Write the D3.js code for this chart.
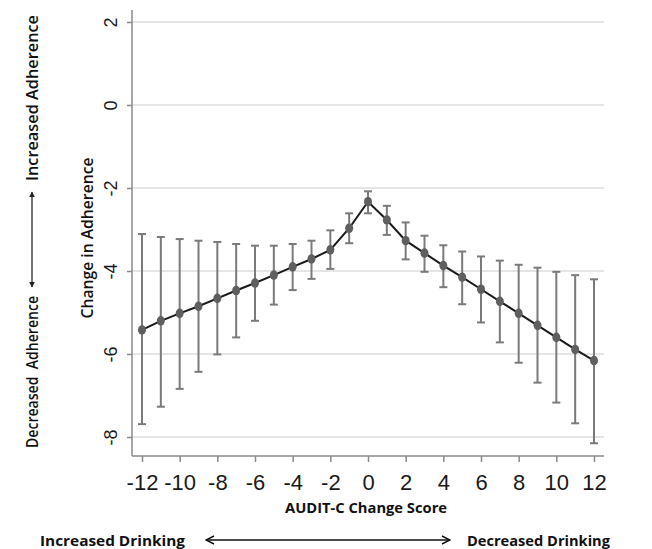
<!DOCTYPE html>
<html>
<head>
<meta charset="utf-8">
<script src="https://cdn.jsdelivr.net/npm/d3@7"></script>
<style>
  body { margin: 0; background: #fff; }
  svg { display: block; }
</style>
</head>
<body>
<div id="chart"></div>
<script>
// AUDIT-C change score vs change in adherence (mean + 95% CI)
const scores = [-12, -11, -10, -9, -8, -7, -6, -5, -4, -3, -2, -1, 0, 1, 2, 3, 4, 5, 6, 7, 8, 9, 10, 11, 12];
const means = [-5.42, -5.20, -5.02, -4.85, -4.66, -4.47, -4.29, -4.10, -3.90, -3.71, -3.49, -2.97, -2.33,
  -2.77, -3.27, -3.57, -3.87, -4.15, -4.44, -4.73, -5.02, -5.31, -5.60, -5.89, -6.16];
const upperCI = [-3.11, -3.18, -3.23, -3.27, -3.30, -3.35, -3.39, -3.39, -3.35, -3.27, -3.02, -2.61, -2.08,
  -2.43, -2.83, -3.15, -3.38, -3.53, -3.65, -3.75, -3.85, -3.92, -4.02, -4.10, -4.20];
const lowerCI = [-7.69, -7.27, -6.84, -6.43, -6.01, -5.60, -5.20, -4.81, -4.46, -4.19, -3.95, -3.33, -2.61,
  -3.13, -3.72, -4.02, -4.39, -4.80, -5.24, -5.72, -6.21, -6.69, -7.17, -7.67, -8.15];
const xTicks = [-12, -10, -8, -6, -4, -2, 0, 2, 4, 6, 8, 10, 12];
const yTicks = [-8, -6, -4, -2, 0, 2];

const data = scores.map((s, i) => ({ s, m: means[i], lo: lowerCI[i], hi: upperCI[i] }));

const W = 652, H = 549;
const plot = { left: 132, right: 604, top: 10, bottom: 456 };

const svg = d3.select('#chart').append('svg')
  .attr('width', W)
  .attr('height', H);

const x = d3.scaleLinear().domain([-12, 12]).range([142, 594]);
const y = d3.scaleLinear().domain([-8, 2]).range([437, 22]);

const axisColor = '#8a8a8a';
const labelFont = '"Open Sans", Lato, sans-serif';
const tickFont = 'Liberation Sans';

// gridlines
svg.append('g')
  .selectAll('line')
  .data(yTicks)
  .enter()
  .append('line')
  .attr('x1', plot.left)
  .attr('x2', plot.right)
  .attr('y1', d => y(d))
  .attr('y2', d => y(d))
  .attr('stroke', '#dcdcdc')
  .attr('stroke-width', 1.5);

// y axis
const yAxis = svg.append('g')
  .attr('transform', `translate(${plot.left},0)`)
  .call(d3.axisLeft(y).tickValues(yTicks).tickSize(5).tickFormat(d => String(d)));
yAxis.attr('font-family', null).attr('font-size', null);
yAxis.select('.domain').remove();
yAxis.selectAll('.tick line').attr('stroke', axisColor).attr('stroke-width', 1.5);
yAxis.selectAll('.tick text')
  .attr('x', 0)
  .attr('dy', null)
  .attr('transform', 'translate(-21,0) rotate(-90)')
  .attr('text-anchor', 'middle')
  .attr('dominant-baseline', 'central')
  .attr('fill', '#1a1a1a')
  .attr('font-family', tickFont)
  .attr('font-size', 18);

// x axis
const xAxis = svg.append('g')
  .attr('transform', `translate(0,${plot.bottom})`)
  .call(d3.axisBottom(x).tickValues(xTicks).tickSize(6).tickFormat(d => String(d)));
xAxis.attr('font-family', null).attr('font-size', null);
xAxis.select('.domain').remove();
xAxis.selectAll('.tick line').attr('stroke', axisColor).attr('stroke-width', 1.5);
xAxis.selectAll('.tick text')
  .attr('y', 34)
  .attr('dy', null)
  .attr('fill', '#1a1a1a')
  .attr('font-family', tickFont)
  .attr('font-size', 22);

// axis lines
svg.append('line')
  .attr('x1', plot.left).attr('x2', plot.left)
  .attr('y1', plot.top).attr('y2', plot.bottom)
  .attr('stroke', axisColor).attr('stroke-width', 1.5);
svg.append('line')
  .attr('x1', plot.left).attr('x2', plot.right)
  .attr('y1', plot.bottom).attr('y2', plot.bottom)
  .attr('stroke', axisColor).attr('stroke-width', 1.5);

// error bars
const eb = svg.append('g').attr('stroke', '#7a7a7a').attr('stroke-width', 2);
const capW = 4;
data.forEach(d => {
  eb.append('line')
    .attr('x1', x(d.s)).attr('x2', x(d.s))
    .attr('y1', y(d.hi)).attr('y2', y(d.lo));
  [d.hi, d.lo].forEach(v => {
    eb.append('line')
      .attr('x1', x(d.s) - capW).attr('x2', x(d.s) + capW)
      .attr('y1', y(v)).attr('y2', y(v));
  });
});

// mean line
const line = d3.line()
  .x(d => x(d.s))
  .y(d => y(d.m));
svg.append('path')
  .datum(data)
  .attr('fill', 'none')
  .attr('stroke', '#1a1a1a')
  .attr('stroke-width', 2)
  .attr('d', line);

// points
svg.append('g')
  .selectAll('ellipse')
  .data(data)
  .enter()
  .append('ellipse')
  .attr('cx', d => x(d.s))
  .attr('cy', d => y(d.m))
  .attr('rx', 4)
  .attr('ry', 4.8)
  .attr('fill', '#5f5f5f');

// titles
function fitText(sel, len) {
  sel.attr('textLength', len).attr('lengthAdjust', 'spacingAndGlyphs');
  return sel;
}

fitText(svg.append('text')
  .attr('transform', 'translate(93,238) rotate(-90)')
  .attr('text-anchor', 'middle')
  .attr('fill', '#111')
  .style('font-family', labelFont)
  .style('font-size', '16px')
  .style('font-weight', 600)
  .text('Change in Adherence'), 161);

fitText(svg.append('text')
  .attr('x', 366)
  .attr('y', 513)
  .attr('text-anchor', 'middle')
  .attr('fill', '#111')
  .style('font-family', labelFont)
  .style('font-size', '15px')
  .style('font-weight', 'bold')
  .text('AUDIT-C Change Score'), 162);

// outer adherence label
fitText(svg.append('text')
  .attr('transform', 'translate(38,98) rotate(-90)')
  .attr('text-anchor', 'middle')
  .attr('fill', '#111')
  .style('font-family', labelFont)
  .style('font-size', '17px')
  .style('font-weight', 600)
  .text('Increased Adherence'), 166);

fitText(svg.append('text')
  .attr('transform', 'translate(38,372) rotate(-90)')
  .attr('text-anchor', 'middle')
  .attr('fill', '#111')
  .style('font-family', labelFont)
  .style('font-size', '17px')
  .style('font-weight', 600)
  .style('white-space', 'pre')
  .text('Decreased  Adherence'), 152);

// bottom drinking labels
fitText(svg.append('text')
  .attr('x', 40)
  .attr('y', 546)
  .attr('fill', '#111')
  .style('font-family', labelFont)
  .style('font-size', '15px')
  .style('font-weight', 'bold')
  .text('Increased Drinking'), 145);

fitText(svg.append('text')
  .attr('x', 467)
  .attr('y', 546)
  .attr('fill', '#111')
  .style('font-family', labelFont)
  .style('font-size', '15px')
  .style('font-weight', 'bold')
  .text('Decreased Drinking'), 143);

// arrows
const defs = svg.append('defs');
defs.append('marker')
  .attr('id', 'tri')
  .attr('viewBox', '0 0 10 10')
  .attr('refX', 9).attr('refY', 5)
  .attr('markerWidth', 4).attr('markerHeight', 4)
  .attr('orient', 'auto-start-reverse')
  .append('path')
  .attr('d', 'M0,0 L10,5 L0,10 Z')
  .attr('fill', '#222');
defs.append('marker')
  .attr('id', 'chev')
  .attr('viewBox', '0 0 10 10')
  .attr('refX', 9).attr('refY', 5)
  .attr('markerWidth', 10).attr('markerHeight', 10)
  .attr('markerUnits', 'userSpaceOnUse')
  .attr('orient', 'auto-start-reverse')
  .append('path')
  .attr('d', 'M1,1 L9,5 L1,9')
  .attr('fill', 'none')
  .attr('stroke', '#111')
  .attr('stroke-width', 1.4);

svg.append('line')
  .attr('x1', 32).attr('x2', 32)
  .attr('y1', 192).attr('y2', 287)
  .attr('stroke', '#444')
  .attr('stroke-width', 1.5)
  .attr('marker-start', 'url(#tri)')
  .attr('marker-end', 'url(#tri)');

svg.append('line')
  .attr('x1', 206).attr('x2', 450)
  .attr('y1', 540).attr('y2', 540)
  .attr('stroke', '#111')
  .attr('stroke-width', 1.5)
  .attr('marker-start', 'url(#chev)')
  .attr('marker-end', 'url(#chev)');
</script>
</body>
</html>
